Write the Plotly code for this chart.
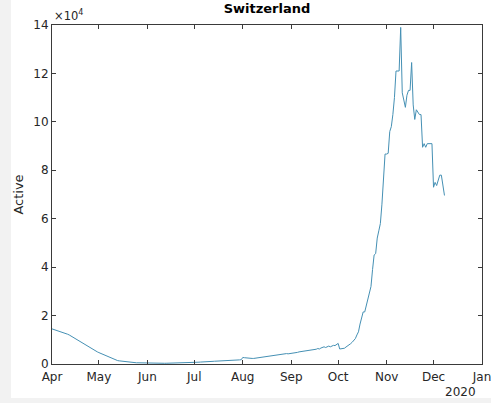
import pandas as pd
import plotly.graph_objects as go

# Active COVID-19 cases in Switzerland, one value per day (1 Apr - 8 Dec 2020)
apr = [14500, 14300, 14200, 14000, 13600, 13300, 13100, 12900, 12800, 12600,
       12300, 12000, 11600, 11200, 10900, 10600, 10100, 9600, 9100, 8800,
       8500, 8100, 7600, 7200, 6800, 6400, 6000, 5700, 5300, 5000]
may = [4700, 4400, 4100, 3800, 3500, 3200, 2900, 2600, 2300, 2000,
       1800, 1600, 1400, 1300, 1200, 1100, 1000, 900, 800, 750,
       700, 650, 600, 550, 500, 500, 470, 450, 430, 420, 410]
jun = [400, 380, 360, 350, 340, 330, 320, 320, 310, 300,
       300, 300, 310, 320, 330, 330, 340, 350, 360, 370,
       380, 400, 410, 420, 440, 460, 480, 500, 520, 550]
jul = [600, 650, 700, 750, 800, 800, 850, 900, 950, 1000,
       1000, 1050, 1100, 1150, 1200, 1200, 1250, 1300, 1350, 1400,
       1400, 1450, 1500, 1500, 1550, 1600, 1600, 1650, 1700, 1700, 1750]
aug = [2700, 2600, 2500, 2400, 2400, 2300, 2300, 2300, 2400, 2400,
       2500, 2600, 2700, 2900, 3000, 3100, 3200, 3300, 3500, 3600,
       3700, 3800, 3700, 3900, 4000, 4100, 4000, 4200, 4300, 4200, 4300]
sep = [4200, 4400, 4300, 4600, 4800, 5000, 5100, 5000, 5200, 5400,
       5300, 5500, 5600, 5800, 5700, 5900, 6100, 6400, 6200, 6600,
       6900, 7100, 6800, 7200, 7400, 7100, 7500, 7700, 7600, 7900]
oct_ = [8500, 6200, 6200, 6300, 6500, 7000, 7400, 7800, 8400, 9000,
        9600, 10500, 12000, 13300, 16500, 19000, 21500, 21500, 24000, 27000,
        30000, 32000, 39000, 45000, 45600, 52000, 55000, 58000, 66000, 75000, 86700]
nov = [86700, 87000, 96000, 98000, 103000, 110000, 121000, 121000, 121000, 139000,
       112000, 109000, 106000, 111000, 113000, 113000, 124500, 107000, 101000, 105000,
       104000, 103000, 103000, 89500, 91000, 89500, 91000, 91000, 91000, 91000]
dec = [73000, 75000, 73700, 76500, 78000, 78000, 74000, 69600]

active = apr + may + jun + jul + aug + sep + oct_ + nov + dec
dates = pd.date_range("2020-04-01", periods=len(active), freq="D")

month_ticks = pd.date_range("2020-04-01", "2021-01-01", freq="MS")
month_labels = ["Apr", "May", "Jun", "Jul", "Aug", "Sep", "Oct", "Nov", "Dec", "Jan"]
y_ticks = [0, 20000, 40000, 60000, 80000, 100000, 120000, 140000]
y_labels = ["0", "2", "4", "6", "8", "10", "12", "14"]

axis_col = "#3a3a3a"
text_col = "#262626"
font_family = "DejaVu Sans"

fig = go.Figure(
    go.Scatter(
        x=dates,
        y=active,
        mode="lines",
        line=dict(color="#4590b4", width=1),
        hoverinfo="skip",
    )
)

W, H = 491, 403
ml, mr, mt, mb = 52, 9, 25, 39
pw, ph = W - ml - mr, H - mt - mb

def px_x(p):
    return (p - ml) / pw

def px_y(p):
    return (H - mb - p) / ph

fig.update_layout(
    width=W,
    height=H,
    margin=dict(l=ml, r=mr, t=mt, b=mb),
    paper_bgcolor="#f2f2f2",
    plot_bgcolor="white",
    showlegend=False,
    font=dict(family=font_family, size=12, color=text_col),
    title=dict(
        text="<b>Switzerland</b>",
        x=0.5, xref="paper", xanchor="center",
        y=1 - 8 / H, yref="container", yanchor="middle",
        font=dict(size=13, color="black"),
    ),
    shapes=[
        dict(type="rect", xref="paper", yref="paper",
             x0=px_x(11), x1=px_x(W + 2), y0=px_y(398), y1=px_y(-2),
             fillcolor="white", line=dict(width=0), layer="below"),
    ],
    annotations=[
        dict(text="×10<sup>4</sup>", xref="paper", yref="paper",
             x=0.0, y=1.0, xanchor="left", yanchor="bottom",
             showarrow=False, font=dict(size=11.5, color=text_col)),
        dict(text="2020", xref="paper", yref="paper",
             x=px_x(460), y=px_y(392), xanchor="center", yanchor="middle",
             showarrow=False, font=dict(size=12, color=text_col)),
    ],
)

fig.update_xaxes(
    type="date",
    range=["2020-04-01", "2021-01-01"],
    tickvals=month_ticks,
    ticktext=month_labels,
    ticks="inside", ticklen=4, tickcolor=axis_col, tickwidth=1,
    showline=True, linecolor=axis_col, linewidth=1, mirror="ticks",
    showgrid=False, zeroline=False,
    tickfont=dict(size=12, color=text_col),
    ticklabelstandoff=2,
    ticklabeloverflow="allow",
    automargin=False,
)
fig.update_yaxes(
    range=[0, 140000],
    tickvals=y_ticks,
    ticktext=y_labels,
    ticks="inside", ticklen=4, tickcolor=axis_col, tickwidth=1,
    showline=True, linecolor=axis_col, linewidth=1, mirror="ticks",
    showgrid=False, zeroline=False,
    tickfont=dict(size=12, color=text_col),
    title=dict(text="Active", font=dict(size=13, color=text_col), standoff=6),
    automargin=False,
)

fig.write_html("out.html")
